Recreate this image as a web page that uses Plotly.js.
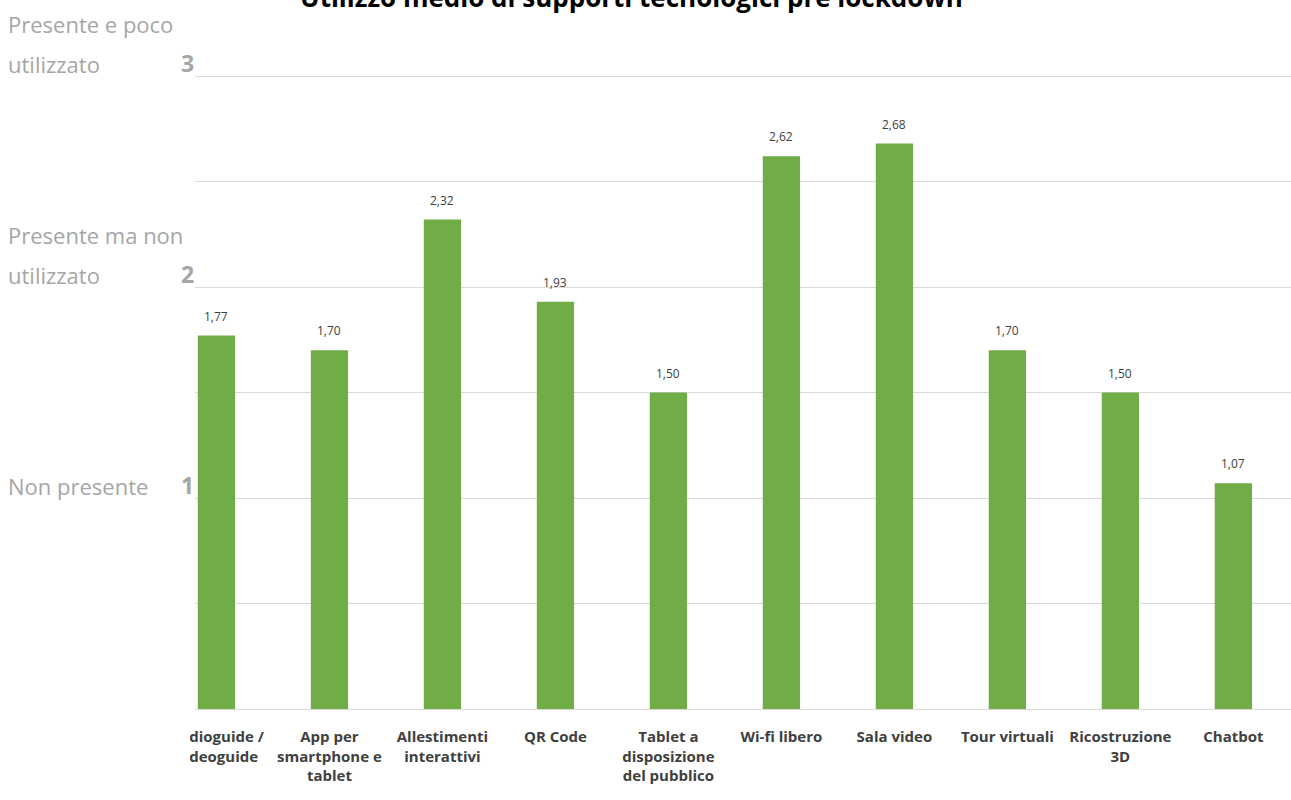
<!DOCTYPE html>
<html>
<head>
<meta charset="utf-8">
<script src="https://cdn.plot.ly/plotly-3.0.1.min.js"></script>
<style>html,body{margin:0;padding:0;background:#fff;}#chart{width:1291px;height:800px;}</style>
</head>
<body>
<div id="chart"></div>
<script>
const categories = [
  "Audioguide /<br>Videoguide",
  "App per<br>smartphone e<br>tablet",
  "Allestimenti<br>interattivi",
  "QR Code",
  "Tablet a<br>disposizione<br>del pubblico",
  "Wi-fi libero",
  "Sala video",
  "Tour virtuali",
  "Ricostruzione<br>3D",
  "Chatbot"
];
const values = [1.77, 1.70, 2.32, 1.93, 1.50, 2.62, 2.68, 1.70, 1.50, 1.07];
const levelValues = [3, 2, 1];
const levelNames = [["Presente e poco", "utilizzato"], ["Presente ma non", "utilizzato"], ["Non presente"]];
const titleText = "Utilizzo medio di supporti tecnologici pre lockdown";

const W = 1291, H = 800, L = 195, R = 0, T = 75, B = 91;
const plotW = W - L - R, plotH = H - T - B;
const font = "Open Sans, Liberation Sans, sans-serif";
const gray = "#a6a6a6";

const annotations = [];
// title
annotations.push({
  x: (631 - L) / plotW, xref: "paper", y: (H - B - 17) / plotH, yref: "paper",
  xanchor: "center", yanchor: "bottom",
  text: "<b>" + titleText + "</b>", showarrow: false,
  font: {family: font, size: 26, color: "#000"}
});
// data labels
categories.forEach((c, i) => {
  annotations.push({
    x: i, y: values[i], xref: "x", yref: "y",
    text: values[i].toFixed(2).replace(".", ","),
    showarrow: false, yanchor: "bottom", yshift: 9,
    font: {family: font, size: 12, color: "#404040"}
  });
});
// level numbers and names
levelValues.forEach((v, k) => {
  annotations.push({
    x: 1 / plotW, xref: "paper", y: v, yref: "y",
    xanchor: "right", yanchor: "middle", yshift: 13,
    text: "<b>" + v + "</b>", showarrow: false,
    font: {family: font, size: 23, color: gray}
  });
  const lines = levelNames[k];
  lines.forEach((ln, j) => {
    const offs = (lines.length - 1 - j) * 40;
    annotations.push({
      x: -189 / plotW, xref: "paper", y: v, yref: "y",
      xanchor: "left", yanchor: "middle", yshift: 12 + offs,
      text: ln, showarrow: false,
      font: {family: font, size: 22, color: gray}
    });
  });
});

const data = [{
  type: "bar",
  x: categories.map((c, i) => i),
  y: values,
  width: 0.33,
  marker: {color: "#70ad47", line: {width: 0}},
  hoverinfo: "none"
}];

const layout = {
  width: W, height: H,
  margin: {l: L, r: R, t: T, b: B, pad: 0},
  paper_bgcolor: "#fff", plot_bgcolor: "#fff",
  separators: ",.",
  showlegend: false,
  xaxis: {
    range: [-0.19, 9.51],
    tickmode: "array",
    tickvals: categories.map((c, i) => i),
    ticktext: categories,
    ticks: "",
    ticklabelstandoff: 14,
    showgrid: false,
    zeroline: false,
    showline: true, linecolor: "#d9d9d9", linewidth: 1,
    tickfont: {family: font, size: 15, color: "#404040", weight: "bold"},
    fixedrange: true
  },
  yaxis: {
    range: [0, 3.005],
    tickmode: "array",
    tickvals: [0, 0.5, 1, 1.5, 2, 2.5, 3],
    showticklabels: false,
    ticks: "",
    showgrid: true, gridcolor: "#d9d9d9", gridwidth: 1,
    zeroline: false, showline: false,
    fixedrange: true
  },
  shapes: [{
    type: "rect", xref: "paper", yref: "paper", layer: "above",
    x0: -L / plotW, x1: -5 / plotW,
    y0: -6 / plotH, y1: -B / plotH,
    fillcolor: "#fff", line: {width: 0}
  }],
  annotations: annotations
};

Plotly.newPlot("chart", data, layout, {staticPlot: true, displayModeBar: false});
</script>
</body>
</html>
